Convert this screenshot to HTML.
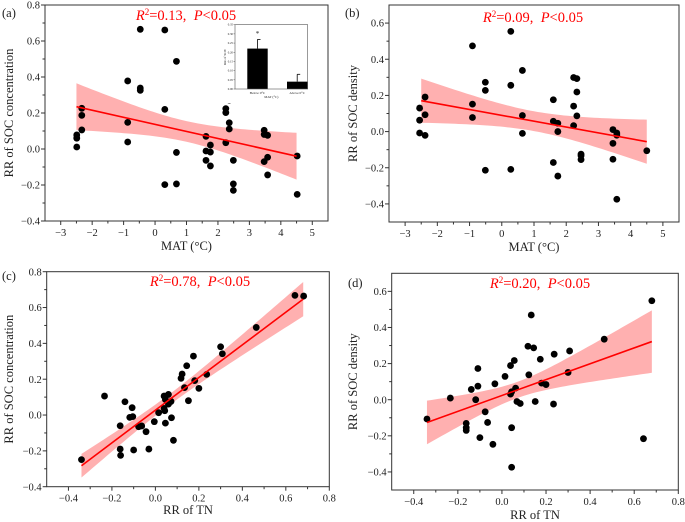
<!DOCTYPE html>
<html><head><meta charset="utf-8">
<style>
html,body{margin:0;padding:0;background:#fff;}
svg{display:block;font-family:"Liberation Serif","DejaVu Serif",serif;}
</style></head>
<body>
<svg id="fig" width="685" height="522" viewBox="0 0 685 522" xmlns="http://www.w3.org/2000/svg"></svg>
<script>
// ---- Panel (a): MAT vs RR SOC concentration
const aX = [-2.49,-2.49,-2.49,-2.33,-2.33,-2.33,-0.87,-0.87,-0.87,-0.47,-0.47,-0.47,0.31,0.31,0.31,0.68,0.68,0.68,1.62,1.62,1.62,1.76,1.76,1.76,2.25,2.25,2.25,2.36,2.36,2.36,2.49,2.49,2.49,3.47,3.47,3.47,3.58,3.58,3.58,4.52,4.52];
const aY = [0.078,0.06,0.011,0.226,0.187,0.106,0.378,0.148,0.039,0.665,0.339,0.326,0.661,0.22,-0.198,0.487,-0.019,-0.194,0.07,-0.011,-0.063,0.022,-0.017,-0.094,0.224,0.202,0.035,0.272,0.146,0.111,-0.063,-0.194,-0.23,0.104,0.081,-0.07,0.076,-0.046,-0.144,-0.039,-0.252];
const aFitX = [-2.5,4.5];
const aFitY = [0.235,-0.04];
const aBand = [0.0033,0.00111,1.0]; // CI hyperbola: a, b, centre
// ---- Panel (b): MAT vs RR SOC density
const bX = [-2.55,-2.55,-2.55,-2.38,-2.38,-2.38,-0.91,-0.91,-0.91,-0.51,-0.51,-0.51,0.28,0.28,0.28,0.64,0.64,0.64,1.6,1.6,1.6,1.74,1.74,1.74,2.23,2.23,2.23,2.33,2.33,2.33,2.46,2.46,2.46,3.45,3.45,3.45,3.57,3.57,3.57,4.5];
const bY = [0.13,0.063,-0.008,0.191,0.093,-0.021,0.474,0.152,0.078,0.273,0.228,-0.214,0.554,0.256,-0.209,0.338,0.089,-0.01,0.176,0.057,-0.171,0.046,0.0,-0.246,0.299,0.141,0.033,0.293,0.219,0.087,-0.125,-0.134,-0.155,0.011,-0.065,-0.153,-0.008,-0.02,-0.374,-0.106];
const bFitX = [-2.5,4.5];
const bFitY = [0.171,-0.056];
const bBand = [0.003,0.00097,1.0];
// ---- Panel (c): RR TN vs RR SOC concentration
const cX = [-0.34,-0.234,-0.162,-0.162,-0.16,-0.14,-0.118,-0.107,-0.104,-0.1,-0.077,-0.063,-0.043,-0.03,-0.005,0.015,0.04,0.04,0.043,0.046,0.046,0.06,0.06,0.072,0.074,0.083,0.118,0.123,0.134,0.144,0.152,0.175,0.181,0.2,0.236,0.3,0.308,0.464,0.642,0.682];
const cY = [-0.249,0.106,-0.06,-0.19,-0.225,0.074,-0.013,0.041,-0.009,-0.195,-0.065,-0.061,-0.093,-0.19,-0.037,0.013,0.106,0.037,0.024,-0.045,0.087,0.115,0.061,0.076,-0.015,-0.141,0.205,0.229,0.153,0.275,0.08,0.329,0.192,0.149,0.227,0.381,0.342,0.489,0.668,0.664];
const cFitX = [-0.34,0.68];
const cFitY = [-0.283,0.647];
const cBand = [0.0009,0.0215,0.06];
// ---- Panel (d): RR TN vs RR SOC density
const dX = [-0.34,-0.234,-0.162,-0.162,-0.162,-0.139,-0.119,-0.109,-0.109,-0.1,-0.076,-0.065,-0.041,-0.032,0.014,0.039,0.039,0.044,0.044,0.044,0.056,0.062,0.068,0.083,0.118,0.122,0.133,0.144,0.151,0.174,0.18,0.2,0.234,0.237,0.3,0.307,0.464,0.642,0.68];
const dY = [-0.107,0.009,-0.131,-0.155,-0.17,0.057,0.0,0.173,0.075,-0.21,-0.067,-0.126,-0.247,0.088,0.129,0.189,0.031,0.044,-0.155,-0.374,0.217,0.064,-0.01,-0.021,0.296,0.138,0.469,0.287,-0.01,0.224,0.092,0.084,-0.024,0.252,0.151,0.27,0.335,-0.216,0.548];
const dFitX = [-0.34,0.68];
const dFitY = [-0.126,0.322];
const dBand = [0.002,0.075,0.07];
// ---- Inset bar chart
const insetCats = ["Below 0°C","Above 0°C"];
const insetVals = [0.22,0.04];
const insetErr = [0.05,0.04];
const insetTicks = ["0.00","0.05","0.10","0.15","0.20","0.25","0.30","0.35"];

const NS = "http://www.w3.org/2000/svg";
const svg = document.getElementById("fig");
function el(tag, attrs, parent, text){
  const e = document.createElementNS(NS, tag);
  for (const k in attrs) e.setAttribute(k, attrs[k]);
  if (text !== undefined) e.textContent = text;
  (parent||svg).appendChild(e);
  return e;
}
function fmt(v, d){ const s = Math.abs(v).toFixed(d); return (v < -1e-9 ? "\u2212" : "") + s; }

function panel(cfg){
  const g = el("g", {});
  
  
  const L=cfg.box[0], T=cfg.box[1], R=cfg.box[2], B=cfg.box[3];
  const sx = v => L + (v - cfg.xd[0]) / (cfg.xd[1]-cfg.xd[0]) * (R-L);
  const sy = v => B - (v - cfg.yd[0]) / (cfg.yd[1]-cfg.yd[0]) * (B-T);
  const pts=[], lo=[];
  const slope=(cfg.fy[1]-cfg.fy[0])/(cfg.fx[1]-cfg.fx[0]);
  for(let i=0;i<=60;i++){
    const x=cfg.fx[0]+(cfg.fx[1]-cfg.fx[0])*i/60;
    const y=cfg.fy[0]+slope*(x-cfg.fx[0]);
    const h=Math.sqrt(cfg.band[0]+cfg.band[1]*(x-cfg.band[2])*(x-cfg.band[2]));
    pts.push(sx(x).toFixed(2)+","+sy(y+h).toFixed(2));
    lo.unshift(sx(x).toFixed(2)+","+sy(y-h).toFixed(2));
  }
  const band = el("polygon",{points:pts.concat(lo).join(" "),fill:"#ffb0b0",stroke:"none"},g);
  
  
  for(let i=0;i<cfg.px.length;i++){
    const c = el("circle",{cx:sx(cfg.px[i]).toFixed(2),cy:sy(cfg.py[i]).toFixed(2),r:3.4,fill:"#000"},g);
    
    
  }
  const ln = el("line",{x1:sx(cfg.fx[0]),y1:sy(cfg.fy[0]),x2:sx(cfg.fx[1]),y2:sy(cfg.fy[1]),stroke:"#f00","stroke-width":1.6},g);
  
  
  const fr = el("rect",{x:L,y:T,width:R-L,height:B-T,fill:"none",stroke:"#333","stroke-width":1},g);
  
  
  for(let v=cfg.xt[0]; v<=cfg.xt[1]+1e-9; v+=cfg.xt[2]/2){
    const major = Math.abs(Math.round(v/cfg.xt[2])*cfg.xt[2]-v)<1e-6;
    const x=sx(v);
    if (x < L-0.5 || x > R+0.5) continue;
    el("line",{x1:x,y1:B,x2:x,y2:B+(major?4:2.5),stroke:"#333","stroke-width":1},g);
    if(major){
      const t = el("text",{x:x,y:B+15,"font-size":10.5,"text-anchor":"middle",fill:"#222"},g,fmt(v,cfg.xdig));
      
      
    }
  }
  for(let v=cfg.yt[0]; v<=cfg.yt[1]+1e-9; v+=cfg.yt[2]/2){
    const major = Math.abs(Math.round(v/cfg.yt[2])*cfg.yt[2]-v)<1e-6;
    const y=sy(v);
    if (y < T-0.5 || y > B+0.5) continue;
    el("line",{x1:L,y1:y,x2:L-(major?4:2.5),y2:y,stroke:"#333","stroke-width":1},g);
    if(major){
      const t = el("text",{x:L-5,y:y+3.6,"font-size":10.5,"text-anchor":"end",fill:"#222"},g,fmt(v,1));
      
      
    }
  }
  const xt = el("text",{x:(L+R)/2,y:cfg.xtitleY,"font-size":12.5,"text-anchor":"middle",fill:"#222"},g,cfg.xtitle);
  
  
  const yt = el("text",{x:0,y:0,"font-size":12.5,"text-anchor":"middle",fill:"#222",transform:"translate("+cfg.ytitleX+","+((T+B)/2)+") rotate(-90)"},g,cfg.ytitle);
  
  
  const lb = el("text",{x:cfg.lab[0],y:cfg.lab[1],"font-size":12.5,fill:"#222"},g,cfg.letter);
  
  
  const st = el("text",{x:cfg.stat[0],y:cfg.stat[1],"font-size":14.5,"text-anchor":"middle",fill:"#f00"},g);
  
  
  el("tspan",{"font-style":"italic"},st,"R");
  el("tspan",{"baseline-shift":"super","font-size":9},st,"2");
  el("tspan",{},st,"="+cfg.r2+",\u00a0\u00a0");
  el("tspan",{"font-style":"italic"},st,"P");
  el("tspan",{},st,"<0.05");
  return {g,sx,sy};
}

panel({name:"panel-a",box:[45,5,328,221],xd:[-3.5,5.5],yd:[-0.4,0.8],xt:[-3,5,1],yt:[-0.4,0.8,0.2],xdig:0,
  px:aX,py:aY,fx:aFitX,fy:aFitY,band:aBand,xtitle:"MAT (°C)",ytitle:"RR of SOC concentration",
  xtitleY:250,ytitleX:13,lab:[2,17],letter:"(a)",stat:[186,20],r2:"0.13"});
panel({name:"panel-b",box:[389,5,679,222],xd:[-3.5,5.5],yd:[-0.5,0.7],xt:[-3,5,1],yt:[-0.4,0.6,0.2],xdig:0,
  px:bX,py:bY,fx:bFitX,fy:bFitY,band:bBand,xtitle:"MAT (°C)",ytitle:"RR of SOC density",
  xtitleY:251,ytitleX:357,lab:[345,17],letter:"(b)",stat:[533,22],r2:"0.09"});
panel({name:"panel-c",box:[46.7,271.7,329.3,486.7],xd:[-0.5,0.8],yd:[-0.4,0.8],xt:[-0.4,0.8,0.2],yt:[-0.4,0.8,0.2],xdig:1,
  px:cX,py:cY,fx:cFitX,fy:cFitY,band:cBand,xtitle:"RR of TN",ytitle:"RR of SOC concentration",
  xtitleY:514,ytitleX:13,lab:[2,280],letter:"(c)",stat:[200,286],r2:"0.78"});
panel({name:"panel-d",box:[391.7,273.3,678.3,490],xd:[-0.5,0.8],yd:[-0.5,0.7],xt:[-0.4,0.8,0.2],yt:[-0.4,0.6,0.2],xdig:1,
  px:dX,py:dY,fx:dFitX,fy:dFitY,band:dBand,xtitle:"RR of TN",ytitle:"RR of SOC density",
  xtitleY:519,ytitleX:357,lab:[348,287],letter:"(d)",stat:[540,288],r2:"0.20"});

(function(){
  const g = el("g",{});
  
  
  const L=235,T=24.7,R=307.7,B=89;
  el("rect",{x:L-13,y:T-3,width:R-L+16,height:B-T+17,fill:"#fff"},g);
  const sy = v => B - v/0.35*(B-T);
  const barL=[247.3,287], bw=20.4;
  for(let i=0;i<insetVals.length;i++){
    const cx=barL[i]+bw/2;
    el("line",{x1:cx,y1:sy(insetVals[i]),x2:cx,y2:sy(insetVals[i]+insetErr[i]),stroke:"#000","stroke-width":0.8},g);
    el("line",{x1:cx,y1:sy(insetVals[i]+insetErr[i]),x2:cx+3,y2:sy(insetVals[i]+insetErr[i]),stroke:"#000","stroke-width":0.8},g);
    const b = el("rect",{x:barL[i],y:sy(insetVals[i]),width:bw,height:B-sy(insetVals[i]),fill:"#000"},g);
    
    
    const t = el("text",{x:cx,y:B+5,"font-size":3.5,"text-anchor":"middle",fill:"#222"},g,insetCats[i]);
    
    
  }
  el("text",{x:barL[0]+bw/2,y:sy(0.3)+2,"font-size":7,"text-anchor":"middle",fill:"#222"},g,"*");
  el("rect",{x:L,y:T,width:R-L,height:B-T,fill:"none",stroke:"#555","stroke-width":0.6},g);
  for(let i=0;i<insetTicks.length;i++){
    const y=sy(i*0.05);
    el("line",{x1:L,y1:y,x2:L-1.5,y2:y,stroke:"#555","stroke-width":0.5},g);
    el("text",{x:L-2,y:y+1,"font-size":3,"text-anchor":"end",fill:"#222"},g,insetTicks[i]);
  }
  el("text",{x:(L+R)/2,y:B+9,"font-size":3.5,"text-anchor":"middle",fill:"#222"},g,"MAT (°C)");
  el("text",{x:0,y:0,"font-size":3.5,"text-anchor":"middle",fill:"#222",transform:"translate(226,"+((T+B)/2)+") rotate(-90)"},g,"RR of SOC");
})();
</script>
</body></html>
